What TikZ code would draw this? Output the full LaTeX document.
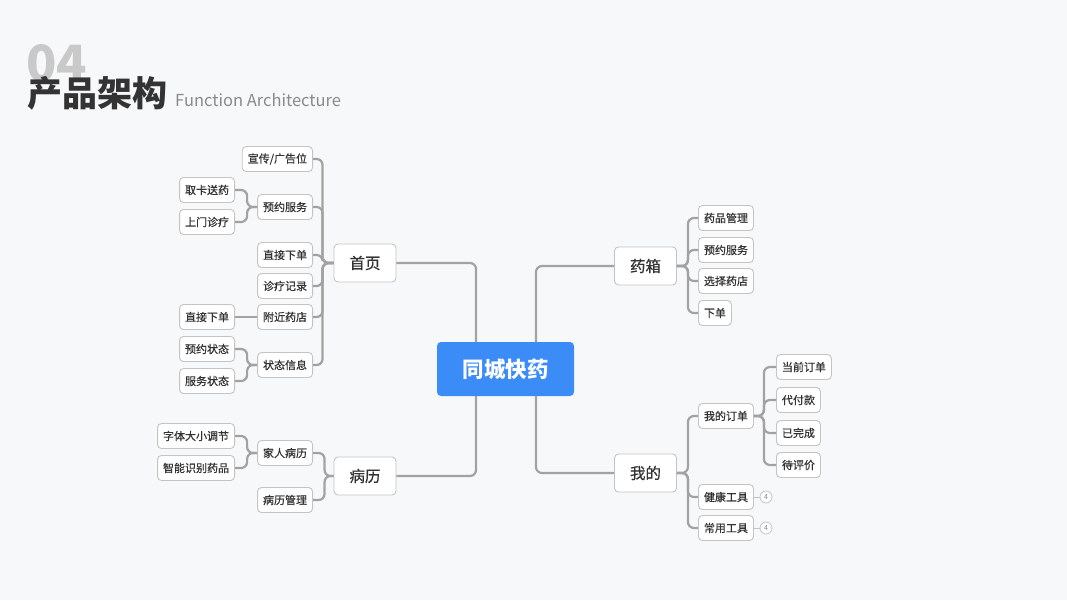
\documentclass[tikz,border=0pt]{standalone}
\usepackage{fontspec}
\setmainfont{Noto Sans CJK SC}
\newfontfamily\midfont[FakeBold=0.6]{Noto Sans CJK SC}
\usepackage{xcolor}
\definecolor{cBack}{HTML}{F7F8FA}
\definecolor{cHub}{HTML}{3B8CF6}
\definecolor{cLine}{HTML}{A2A2A2}
\definecolor{cBorder}{HTML}{C4C4C4}
\definecolor{cText}{HTML}{333333}
\definecolor{cNum}{HTML}{C9C9C9}
\definecolor{cSub}{HTML}{8A8A8A}
\usepackage{tikz}
\usetikzlibrary{positioning,calc}
\tikzset{
  node-root/.style={fill=cHub,draw=none,rounded corners=4pt,text=white,
    minimum width=137pt,minimum height=54pt,
    font=\fontsize{21.5}{21.5}\selectfont\bfseries},
  node-main/.style={fill=white,draw=cBorder,line width=0.9pt,rounded corners=4pt,
    text=cText,minimum width=62pt,minimum height=38pt,
    font=\midfont\fontsize{15.5}{15.5}\selectfont},
  node-leaf/.style={fill=white,draw=cBorder,line width=0.9pt,rounded corners=4pt,
    text=cText,minimum height=25pt,inner xsep=5.5pt,
    font=\midfont\fontsize{11}{11}\selectfont},
  node-badge/.style={circle,draw=cBorder,line width=0.8pt,fill=white,
    inner sep=0pt,minimum size=12pt,text=cSub,font=\fontsize{7}{7}\selectfont},
  link/.style={draw=cLine,line width=2.2pt,rounded corners=6pt},
  link-thin/.style={draw=cBorder,line width=0.8pt},
}

\begin{document}
\begin{tikzpicture}[x=1pt,y=-1pt]
  \fill[cBack] (0,0) rectangle (1067,600);
  \useasboundingbox (0,0) rectangle (1067,600);
  % title
  \node[anchor=base west,inner sep=0pt,text=cNum,
    font=\fontsize{50}{50}\selectfont\bfseries]        (num)   at (26,81)  {04};
  \node[anchor=base west,inner sep=0pt,text=cText,
    font=\fontsize{35}{35}\selectfont\bfseries]        (title) at (27,106) {产品架构};
  \node[anchor=base west,inner sep=0pt,text=cSub,
    font=\fontsize{16.5}{16.5}\selectfont]             (sub)   at (175,106) {Function Architecture};
  % root and main branches
  \node[node-root]                  (hub)  at (505.5,369) {同城快药};
  \node[node-main]                  (home) at (365,263)   {首页};
  \node[node-main]                  (case) at (365,476)   {病历};
  \node[node-main]                  (box)  at (645.5,266) {药箱};
  \node[node-main]                  (mine) at (645.5,473) {我的};
  \draw[link] ([xshift=-29.5pt]hub.north) |- (home.east);
  \draw[link] ([xshift=-29.5pt]hub.south) |- (case.east);
  \draw[link] ([xshift=30.5pt]hub.north)  |- (box.west);
  \draw[link] ([xshift=30.5pt]hub.south)  |- (mine.west);
  % 首页
  \node[node-leaf,anchor=east]      (ad)    at (313,159) {宣传/广告位};
  \node[node-leaf,anchor=east]      (book)  at (313,207) {预约服务};
  \node[node-leaf,anchor=east]      (buy)   at (313,255) {直接下单};
  \node[node-leaf,anchor=east]      (rec)   at (313,286) {诊疗记录};
  \node[node-leaf,anchor=east]      (near)  at (313,317) {附近药店};
  \node[node-leaf,anchor=east]      (state) at (313,365) {状态信息};
  \foreach \c in {ad,book,buy,rec,near,state}
    \draw[link] (home.west) -- ++(-11,0) |- (\c.east);
  \node[node-leaf,anchor=east]      (fetch) at (235,190) {取卡送药};
  \node[node-leaf,anchor=east]      (visit) at (235,222) {上门诊疗};
  \foreach \c in {fetch,visit}
    \draw[link] (book.west) -- ++(-10,0) |- (\c.east);
  \node[node-leaf,anchor=east]      (buy2)  at (235,317) {直接下单};
  \draw[link] (near.west) -- (buy2.east);
  \node[node-leaf,anchor=east]      (st1)   at (235,349) {预约状态};
  \node[node-leaf,anchor=east]      (st2)   at (235,381) {服务状态};
  \foreach \c in {st1,st2}
    \draw[link] (state.west) -- ++(-10,0) |- (\c.east);
  % 病历
  \node[node-leaf,anchor=east]      (family) at (313,453) {家人病历};
  \node[node-leaf,anchor=east]      (manage) at (313,500) {病历管理};
  \foreach \c in {family,manage}
    \draw[link] (case.west) -- ++(-9,0) |- (\c.east);
  \node[node-leaf,anchor=east]      (font)  at (235,436) {字体大小调节};
  \node[node-leaf,anchor=east]      (scan)  at (235,468) {智能识别药品};
  \foreach \c in {font,scan}
    \draw[link] (family.west) -- ++(-10,0) |- (\c.east);
  % 药箱
  \node[node-leaf,anchor=west]      (drug)  at (698,218) {药品管理};
  \node[node-leaf,anchor=west]      (book2) at (698,250) {预约服务};
  \node[node-leaf,anchor=west]      (shop)  at (698,281) {选择药店};
  \node[node-leaf,anchor=west]      (order) at (698,313) {下单};
  \foreach \c in {drug,book2,shop,order}
    \draw[link] (box.east) -- ++(11,0) |- (\c.west);
  % 我的
  \node[node-leaf,anchor=west]      (myord) at (698,416) {我的订单};
  \node[node-leaf,anchor=west]      (health) at (698,497) {健康工具};
  \node[node-leaf,anchor=west]      (tools) at (698,528) {常用工具};
  \foreach \c in {myord,health,tools}
    \draw[link] (mine.east) -- ++(11,0) |- (\c.west);
  \node[node-leaf,anchor=west]      (now)   at (776,367) {当前订单};
  \node[node-leaf,anchor=west]      (pay)   at (776,400) {代付款};
  \node[node-leaf,anchor=west]      (done)  at (776,433) {已完成};
  \node[node-leaf,anchor=west]      (rate)  at (776,465) {待评价};
  \foreach \c in {now,pay,done,rate}
    \draw[link] (myord.east) -- ++(10,0) |- (\c.west);
  \node[node-badge]                 (b1)    at (766,497) {4};
  \node[node-badge]                 (b2)    at (766,528) {4};
  \draw[link-thin] (health.east) -- (b1.west);
  \draw[link-thin] (tools.east)  -- (b2.west);
\end{tikzpicture}
\end{document}
